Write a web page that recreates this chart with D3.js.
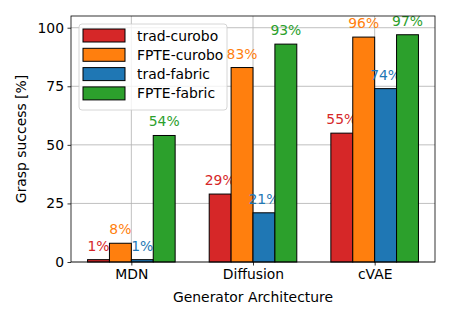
<!DOCTYPE html>
<html>
<head>
<meta charset="utf-8">
<script src="https://cdn.jsdelivr.net/npm/d3@7"></script>
<style>
  body { margin: 0; background: #fff; }
  text { font-family: "DejaVu Sans", sans-serif; }
</style>
</head>
<body>
<div id="chart"></div>
<script>
// data
let categories = ["MDN", "Diffusion", "cVAE"];
let seriesNames = ["trad-curobo", "FPTE-curobo", "trad-fabric", "FPTE-fabric"];
let seriesColors = ["#d62728", "#ff7f0e", "#1f77b4", "#2ca02c"];
let tradCurobo = [1, 29, 55];
let fpteCurobo = [8, 83, 96];
let tradFabric = [1, 21, 74];
let fpteFabric = [54, 93, 97];
let yTicks = [0, 25, 50, 75, 100];

let allSeries = [tradCurobo, fpteCurobo, tradFabric, fpteFabric];

let fs = "13.9px";

let margin = {top: 16, right: 15, bottom: 58, left: 71},
    width = 450 - margin.left - margin.right,
    height = 320 - margin.top - margin.bottom;

let barW = 0.18;

let x = d3.scaleLinear()
    .domain([-0.496, 2.496])
    .range([0, width]);

let y = d3.scaleLinear()
    .domain([0, 105])
    .range([height, 0]);

let svg = d3.select("#chart").append("svg")
    .attr("width", 450)
    .attr("height", 320)
    .append("g")
    .attr("transform", "translate(" + margin.left + "," + margin.top + ")");

// grid
svg.append("g").selectAll("line")
    .data(yTicks)
    .enter().append("line")
    .attr("x1", 0).attr("x2", width)
    .attr("y1", d => y(d)).attr("y2", d => y(d))
    .attr("stroke", "#b0b0b0").attr("stroke-width", 0.8);

svg.append("g").selectAll("line")
    .data(categories.map((c, i) => i))
    .enter().append("line")
    .attr("y1", 0).attr("y2", height)
    .attr("x1", d => x(d)).attr("x2", d => x(d))
    .attr("stroke", "#b0b0b0").attr("stroke-width", 0.8);

// bars + value labels, one series at a time
allSeries.forEach(function(vals, s) {
    let off = (s - 1.5) * barW;
    let g = svg.append("g");
    g.selectAll("rect")
        .data(vals)
        .enter().append("rect")
        .attr("x", (d, i) => x(i + off - barW / 2))
        .attr("width", x(barW) - x(0))
        .attr("y", d => y(d))
        .attr("height", d => y(0) - y(d))
        .attr("fill", seriesColors[s])
        .attr("stroke", "#000")
        .attr("stroke-width", 1);
    g.selectAll("text")
        .data(vals)
        .enter().append("text")
        .attr("x", (d, i) => x(i + off))
        .attr("y", d => y(d) - 9)
        .attr("text-anchor", "middle")
        .attr("font-size", fs)
        .attr("fill", seriesColors[s])
        .text(d => d + "%");
});

// axes
let xAxis = d3.axisBottom(x)
    .tickValues([0, 1, 2])
    .tickFormat(d => categories[d])
    .tickSize(3.5).tickPadding(3.5);
let yAxis = d3.axisLeft(y)
    .tickValues(yTicks)
    .tickSize(3.5).tickPadding(3.5);

let xg = svg.append("g")
    .attr("transform", "translate(0," + height + ")")
    .call(xAxis);
let yg = svg.append("g").call(yAxis);

[xg, yg].forEach(function(g) {
    g.select(".domain").remove();
    g.selectAll("text").attr("font-size", fs).attr("fill", "#000")
        .style("font-family", "DejaVu Sans");
    g.selectAll("line").attr("stroke", "#000").attr("stroke-width", 0.8);
});

svg.append("rect")
    .attr("width", width).attr("height", height)
    .attr("fill", "none").attr("stroke", "#000").attr("stroke-width", 0.8);

// axis titles
svg.append("text")
    .attr("x", width / 2)
    .attr("y", height + 40)
    .attr("text-anchor", "middle")
    .attr("font-size", fs)
    .text("Generator Architecture");

svg.append("text")
    .attr("transform", "translate(" + (-45) + "," + (height / 2) + ") rotate(-90)")
    .attr("text-anchor", "middle")
    .attr("font-size", fs)
    .text("Grasp success [%]");

// legend
let legend = svg.append("g").attr("transform", "translate(8,8)");
legend.append("rect")
    .attr("width", 148).attr("height", 86)
    .attr("rx", 3)
    .attr("fill", "#fff").attr("fill-opacity", 0.8)
    .attr("stroke", "#ccc").attr("stroke-width", 0.8);

let items = legend.selectAll("g.item")
    .data(seriesNames)
    .enter().append("g")
    .attr("transform", (d, i) => "translate(0," + (5 + i * 19.3) + ")");
items.append("rect")
    .attr("x", 4).attr("y", 0)
    .attr("width", 42).attr("height", 13)
    .attr("fill", (d, i) => seriesColors[i])
    .attr("stroke", "#000").attr("stroke-width", 1);
items.append("text")
    .attr("x", 58).attr("y", 11.5)
    .attr("font-size", fs)
    .text(d => d);
</script>
</body>
</html>
